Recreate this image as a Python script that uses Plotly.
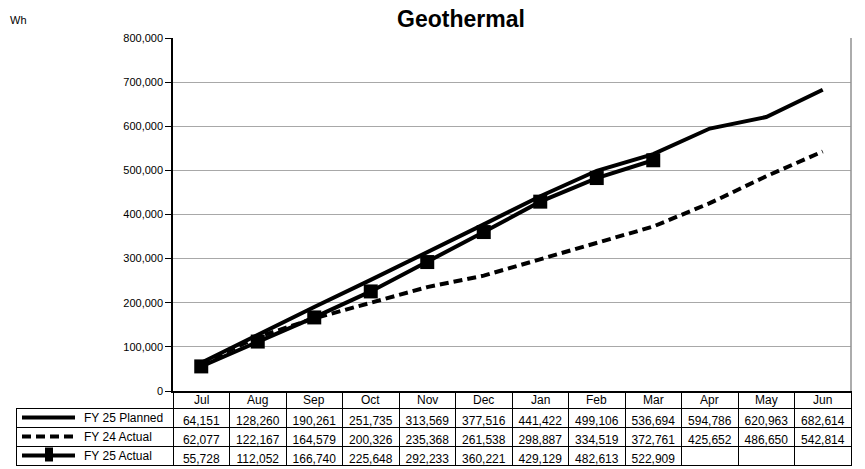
import plotly.graph_objects as go

months = ["Jul", "Aug", "Sep", "Oct", "Nov", "Dec", "Jan", "Feb", "Mar", "Apr", "May", "Jun"]
fy25_planned = [64151, 128260, 190261, 251735, 313569, 377516, 441422, 499106, 536694, 594786, 620963, 682614]
fy24_actual = [62077, 122167, 164579, 200326, 235368, 261538, 298887, 334519, 372761, 425652, 486650, 542814]
fy25_actual = [55728, 112052, 166740, 225648, 292233, 360221, 429129, 482613, 522909, None, None, None]
series_names = ["FY 25 Planned", "FY 24 Actual", "FY 25 Actual"]

# the page body has an 8px margin, so the figure is drawn 8px smaller and
# positions below are given in window pixels
OFF = 8
W, H = 865 - OFF, 469 - OFF


def px_x(v):
    return (v - OFF) / W


def px_y(v):
    return 1 - (v - OFF) / H


left, right, top, bottom = 173, 851, 38, 391
tbl_left = 16
head_h, row_h = 17, 19
FONT = "Liberation Sans, Arial"

fig = go.Figure()
fig.add_trace(go.Scatter(x=months, y=fy25_planned, mode="lines", name=series_names[0],
                         line=dict(color="black", width=4)))
fig.add_trace(go.Scatter(x=months, y=fy24_actual, mode="lines", name=series_names[1],
                         line=dict(color="black", width=4, dash="9px,5px")))
fig.add_trace(go.Scatter(x=months, y=fy25_actual, mode="lines+markers", name=series_names[2],
                         line=dict(color="black", width=4),
                         marker=dict(symbol="square", size=14, color="black")))


def fmt(v):
    return "" if v is None else f"{v:,}"


cols = [["", "", ""]] + [[fmt(a), fmt(b), fmt(c)] for a, b, c in zip(fy25_planned, fy24_actual, fy25_actual)]
col_w = (right - left) / 12
# header row is only the grid; month names are placed on the x axis below
fig.add_trace(go.Table(
    domain=dict(x=[px_x(tbl_left), px_x(right)], y=[0, px_y(bottom)]),
    columnwidth=[left - tbl_left] + [col_w] * 12,
    header=dict(values=[""] * 13, height=head_h,
                line=dict(color=["rgba(0,0,0,0)"] + ["black"] * 12, width=1),
                fill=dict(color="rgba(0,0,0,0)")),
    cells=dict(values=cols, height=row_h, align="center",
               line=dict(color="black", width=1), fill=dict(color="white"),
               font=dict(family=FONT, size=12, color="black")),
))

# legend samples inside the table's first column
row_mid = [bottom + head_h + row_h * (i + 0.5) for i in range(3)]
shapes = []
for i, y in enumerate(row_mid):
    line = dict(type="line", xref="paper", yref="paper", x0=px_x(22), x1=px_x(75),
                y0=px_y(y), y1=px_y(y), line=dict(color="black", width=4))
    if i == 1:
        line["line"]["dash"] = "9px,5px"
    shapes.append(line)
shapes.append(dict(type="rect", xref="paper", yref="paper", x0=px_x(45), x1=px_x(53),
                   y0=px_y(y + 6), y1=px_y(y - 8), fillcolor="black", line=dict(width=0)))
annotations = [dict(text=n, xref="paper", yref="paper", x=px_x(82), y=px_y(y), xanchor="left",
                    yanchor="middle", showarrow=False,
                    font=dict(family=FONT, size=12, color="black"))
               for n, y in zip(series_names, row_mid)]
annotations += [dict(text=m, xref="x", yref="paper", x=m, y=px_y(bottom + head_h / 2),
                     xanchor="center", yanchor="middle", showarrow=False,
                     font=dict(family=FONT, size=12, color="black"))
                for m in months]
annotations.append(dict(text="Wh", xref="paper", yref="paper", x=0, y=px_y(20), xanchor="left",
                        yanchor="middle", showarrow=False,
                        font=dict(family=FONT, size=11, color="black")))

fig.update_layout(
    width=W, height=H, margin=dict(l=0, r=0, t=0, b=0, pad=0, autoexpand=False),
    paper_bgcolor="white", plot_bgcolor="white", showlegend=False,
    title=dict(text="<b>Geothermal</b>", x=px_x(461), xanchor="center", y=px_y(18.5), yanchor="middle",
               font=dict(family=FONT, size=23, color="black")),
    xaxis=dict(domain=[px_x(left), px_x(right)], range=[-0.5, 11.5], showticklabels=False,
               showgrid=False, showline=True, linecolor="black", linewidth=1.5, mirror=False,
               ticks="", zeroline=False, fixedrange=True, automargin=False),
    yaxis=dict(domain=[px_y(bottom), px_y(top)], range=[0, 800000], dtick=100000, tickformat=",",
               showgrid=True, gridcolor="#a8a8a8", gridwidth=1, showline=True, linecolor="black",
               linewidth=1.5, ticks="outside", ticklen=6, tickcolor="black", zeroline=False,
               automargin=False, tickfont=dict(family=FONT, size=11, color="black")),
    shapes=shapes + [dict(type="line", xref="paper", yref="paper", x0=px_x(right), x1=px_x(right),
                          y0=px_y(bottom), y1=px_y(top), line=dict(color="#909090", width=1.5))],
    annotations=annotations,
)

fig.write_html("out.html")
